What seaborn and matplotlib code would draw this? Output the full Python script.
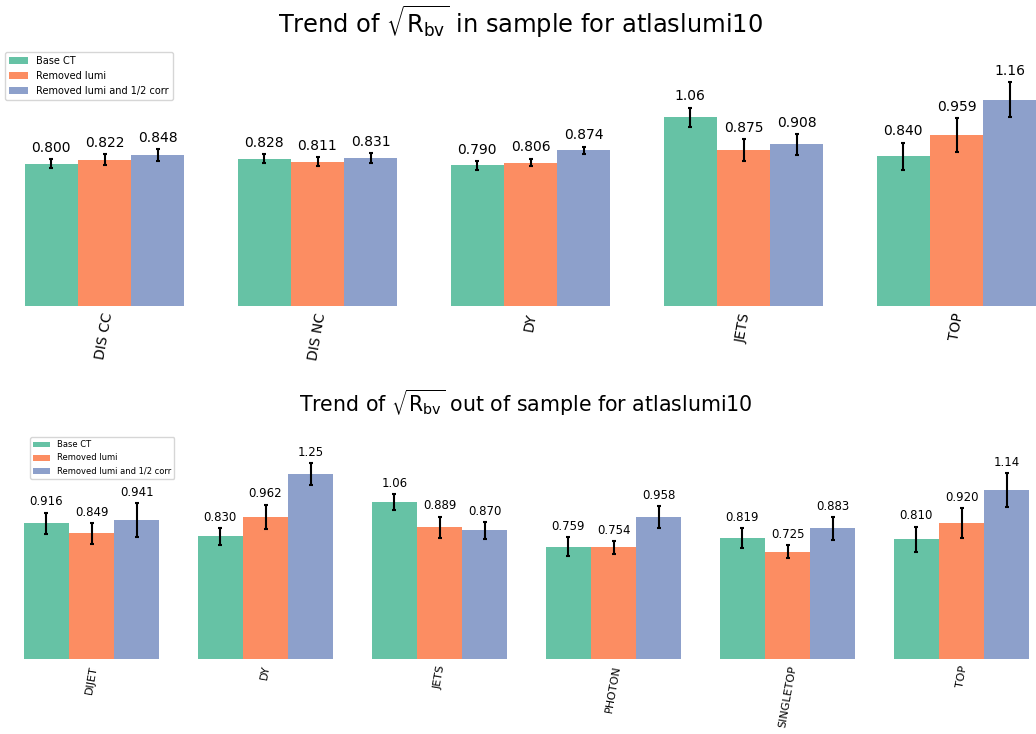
import numpy as np
import pandas as pd
import matplotlib
matplotlib.use("Agg")
import matplotlib.pyplot as plt
import seaborn as sns

# ---- data -------------------------------------------------------------
series = ["Base CT", "Removed lumi", "Removed lumi and 1/2 corr"]

in_cats = ["DIS CC", "DIS NC", "DY", "JETS", "TOP"]
in_base = [0.800, 0.828, 0.790, 1.06, 0.840]
in_lumi = [0.822, 0.811, 0.806, 0.875, 0.959]
in_half = [0.848, 0.831, 0.874, 0.908, 1.16]
in_base_err = [0.027, 0.027, 0.025, 0.055, 0.078]
in_lumi_err = [0.030, 0.024, 0.022, 0.062, 0.095]
in_half_err = [0.033, 0.027, 0.022, 0.057, 0.100]

out_cats = ["DIJET", "DY", "JETS", "PHOTON", "SINGLETOP", "TOP"]
out_base = [0.916, 0.830, 1.06, 0.759, 0.819, 0.810]
out_lumi = [0.849, 0.962, 0.889, 0.754, 0.725, 0.920]
out_half = [0.941, 1.25, 0.870, 0.958, 0.883, 1.14]
out_base_err = [0.073, 0.057, 0.055, 0.064, 0.066, 0.085]
out_lumi_err = [0.072, 0.081, 0.073, 0.044, 0.044, 0.101]
out_half_err = [0.115, 0.073, 0.057, 0.074, 0.077, 0.116]

palette = ["#66c2a5", "#fc8d62", "#8da0cb"]


def long_table(cats, vals, errs):
    rows = []
    for s, v_list, e_list in zip(series, vals, errs):
        for c, v, e in zip(cats, v_list, e_list):
            rows.append({"dataset": c, "series": s, "value": v, "err": e})
    return pd.DataFrame(rows)


df_in = long_table(in_cats, [in_base, in_lumi, in_half],
                   [in_base_err, in_lumi_err, in_half_err])
df_out = long_table(out_cats, [out_base, out_lumi, out_half],
                    [out_base_err, out_lumi_err, out_half_err])

W, H = 1036, 734
fig = plt.figure(figsize=(W / 100, H / 100), dpi=100)


def px_axes(left, right, top, bottom):
    return fig.add_axes([left / W, 1 - bottom / H, (right - left) / W, (bottom - top) / H])


def draw_panel(ax, df, cats, width, ymax, label_fs, tick_fs, legend_fs, legend_xy):
    sns.barplot(data=df, x="dataset", y="value", hue="series", order=cats,
                hue_order=series, palette=palette, saturation=1, width=width,
                errorbar=None, ax=ax)
    for cont, s in zip(ax.containers, series):
        sub = df[df["series"] == s].set_index("dataset").loc[cats]
        xs = [p.get_x() + p.get_width() / 2 for p in cont.patches]
        hs = [p.get_height() for p in cont.patches]
        ax.errorbar(xs, hs, yerr=sub["err"].values, fmt="none", ecolor="black",
                    elinewidth=1.5, capsize=1.5, capthick=1.5)
        for x, h, e, v in zip(xs, hs, sub["err"].values, sub["value"].values):
            ax.annotate(f"{v:#.3g}", (x, h + e), xytext=(0, 3),
                        textcoords="offset points", ha="center", va="bottom",
                        fontsize=label_fs)
    n = len(cats)
    ax.set_xlim(-0.5, n - 0.5)
    ax.set_ylim(0, ymax)
    ax.set_yticks([])
    ax.set_xlabel("")
    ax.set_ylabel("")
    ax.tick_params(axis="x", length=0, labelrotation=80, labelsize=tick_fs, pad=4)
    for sp in ax.spines.values():
        sp.set_visible(False)
    handles, labels = ax.get_legend_handles_labels()
    ax.legend(handles, labels, loc="upper left",
              bbox_to_anchor=(legend_xy[0] / W, 1 - legend_xy[1] / H),
              bbox_transform=fig.transFigure, borderaxespad=0,
              fontsize=legend_fs, frameon=True)


# upper panel: 0 at y=306 px, ~178 px per unit
ax1 = px_axes(-2, 1063, 40, 306)
draw_panel(ax1, df_in, in_cats, 0.75, (306 - 40) / 178, 10, 10, 7, (5, 52))

# lower panel: 0 at y=659 px, ~148 px per unit
ax2 = px_axes(4.5, 1048.5, 425, 659)
draw_panel(ax2, df_out, out_cats, 0.78, (659 - 425) / 148, 8.5, 8, 6, (30, 437))

fig.text(520 / W, 1 - 22 / H, r"Trend of $\sqrt{\mathrm{R_{bv}}}$ in sample for atlaslumi10",
         ha="center", va="center", fontsize=17.4)
fig.text(525.5 / W, 1 - 403 / H, r"Trend of $\sqrt{\mathrm{R_{bv}}}$ out of sample for atlaslumi10",
         ha="center", va="center", fontsize=14.8)

fig.savefig("out.png", dpi=100)
